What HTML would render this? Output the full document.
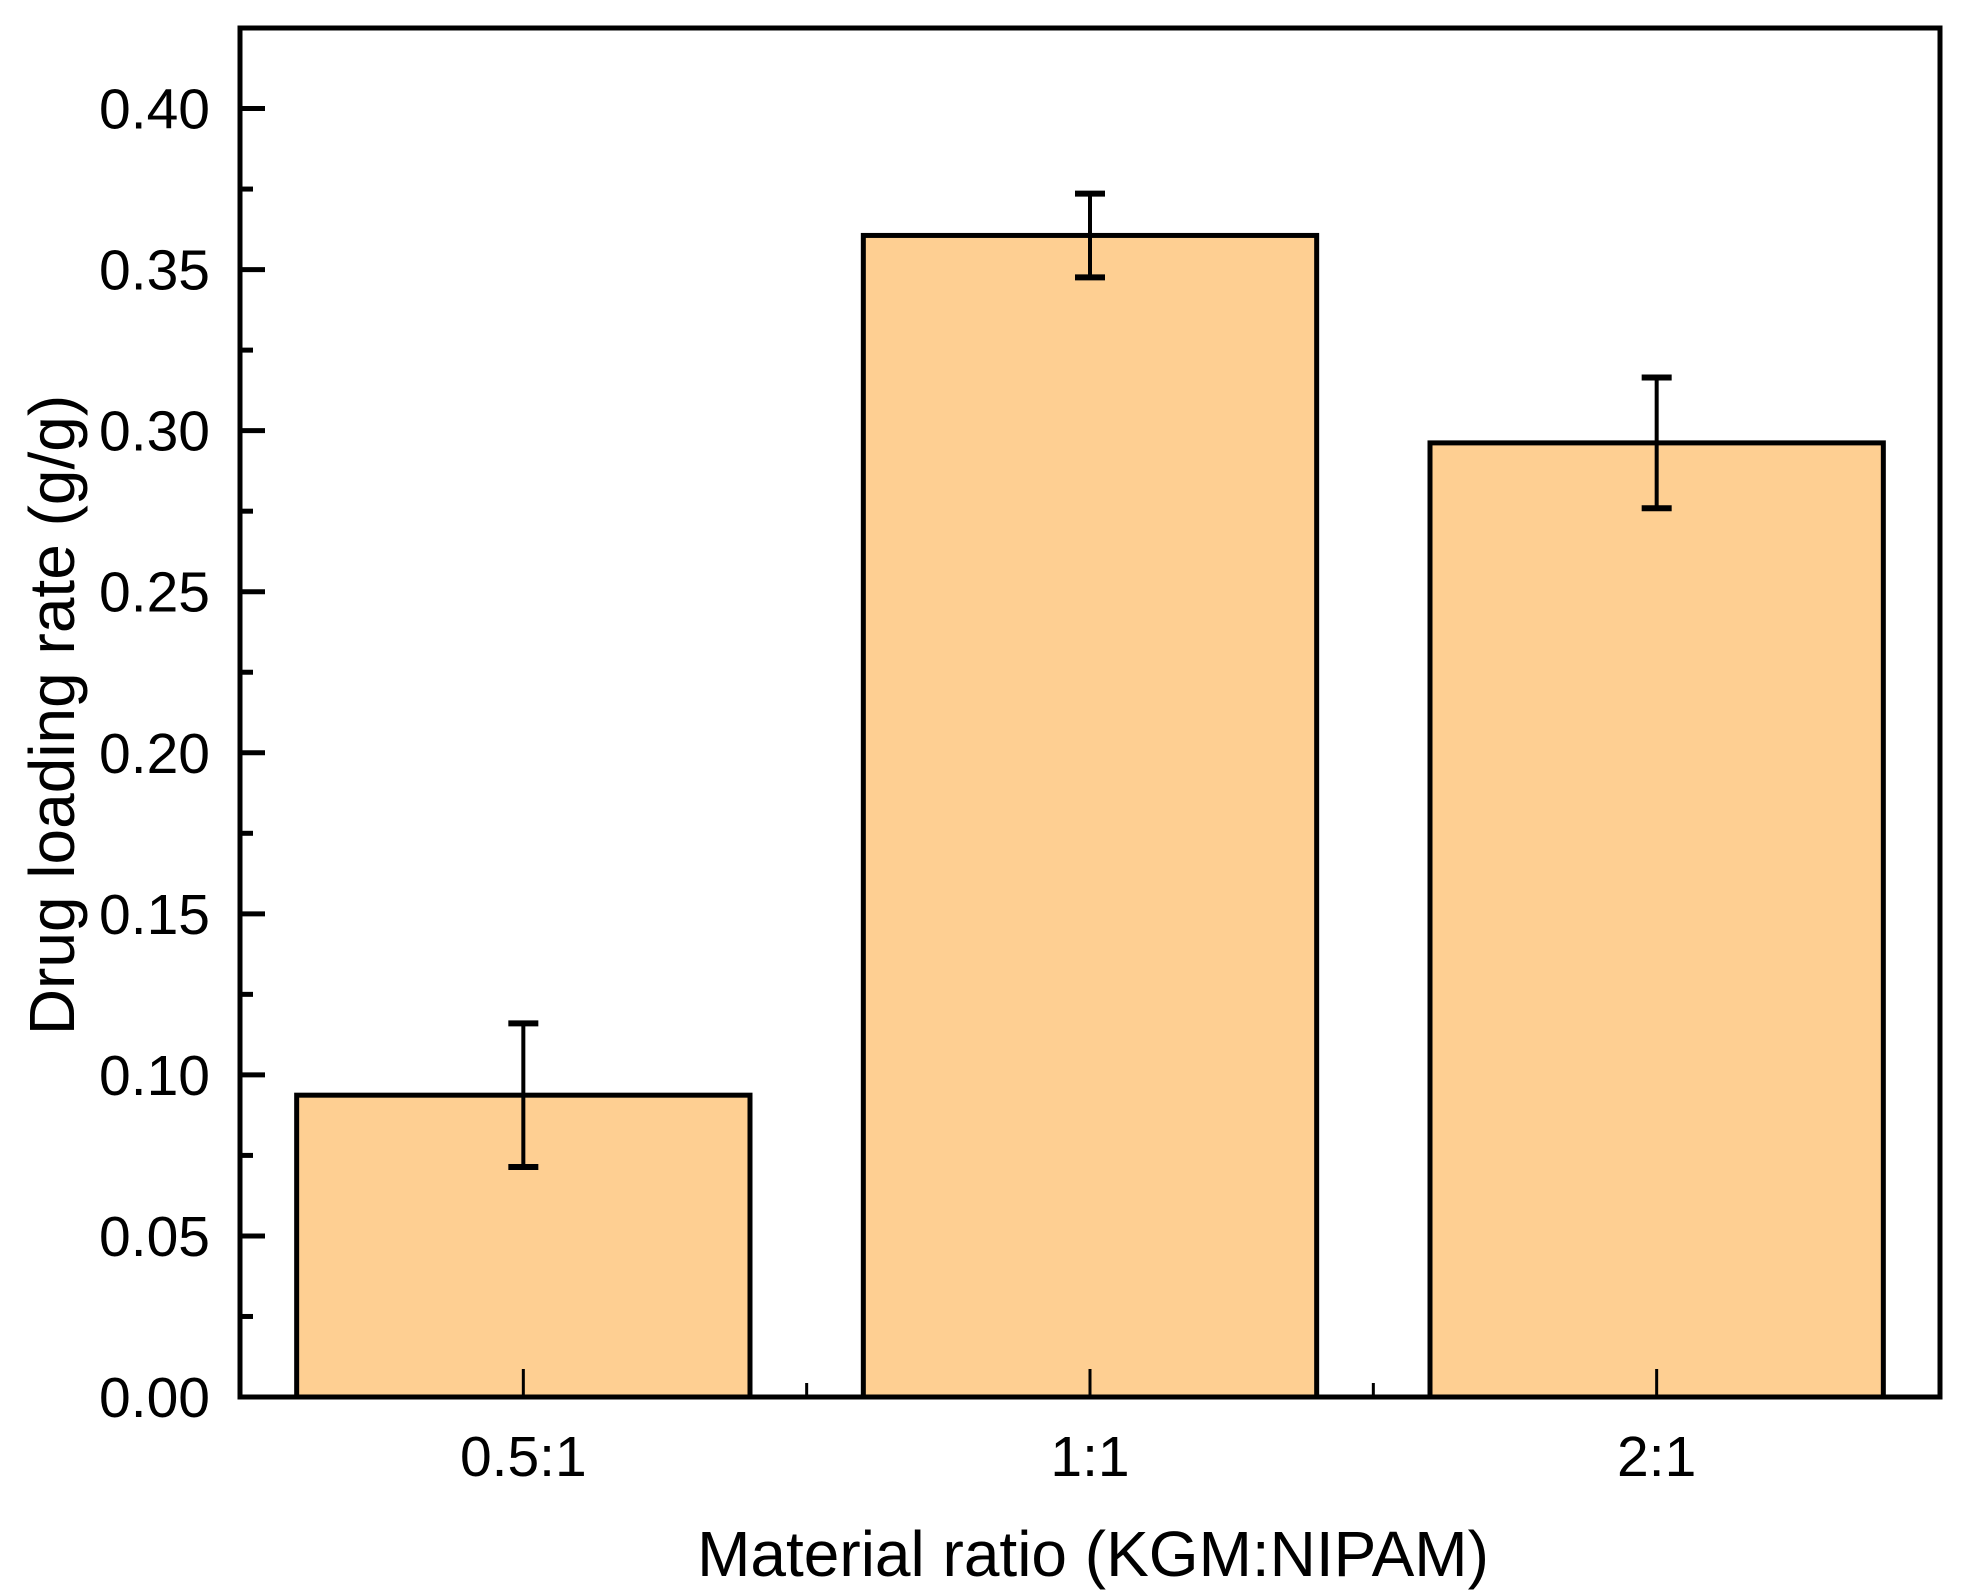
<!DOCTYPE html>
<html><head><meta charset="utf-8">
<style>html,body{margin:0;padding:0;background:#fff;}svg{display:block;font-family:"Liberation Sans",Arial,sans-serif;}</style>
</head><body>
<svg id="chart" width="1970" height="1595" viewBox="0 0 1970 1595">
<g id="plot"></g>
<rect x="240" y="28" width="1700" height="1369" fill="none" stroke="#000" stroke-width="5"/>
<text x="1093" y="1576" font-size="64" text-anchor="middle">Material ratio (KGM:NIPAM)</text>
<text transform="translate(74,715) rotate(-90)" font-size="64" text-anchor="middle">Drug loading rate (g/g)</text>
</svg>
<script>
const categories = ["0.5:1", "1:1", "2:1"];
const values = [0.0937, 0.3606, 0.2962];
const errors = [0.0223, 0.0130, 0.0203];
const yTicks = [0.00, 0.05, 0.10, 0.15, 0.20, 0.25, 0.30, 0.35, 0.40];

const L = 240, R = 1940, T = 28, B = 1397;
const yMin = 0, yMax = 0.425;
const xMin = 0.5, xMax = 3.5;
const NS = "http://www.w3.org/2000/svg";
const xs = v => L + (v - xMin) / (xMax - xMin) * (R - L);
const ys = v => B - (v - yMin) / (yMax - yMin) * (B - T);
const plot = document.getElementById('plot');
function mk(tag, attrs) { const e = document.createElementNS(NS, tag); for (const k in attrs) e.setAttribute(k, attrs[k]); plot.appendChild(e); return e; }

const bw = 0.8;
categories.forEach((c, i) => {
  const cx = i + 1;
  const x0 = xs(cx - bw / 2), x1 = xs(cx + bw / 2);
  const bar = mk('rect', {x: x0, y: ys(values[i]), width: x1 - x0, height: ys(0) - ys(values[i]), fill: '#FECF92', stroke: '#000', 'stroke-width': 5});
  
  
  const px = xs(cx);
  const eg = mk('g', {stroke: '#000', 'stroke-width': 4});
  
  
  const hi = ys(values[i] + errors[i]), lo = ys(values[i] - errors[i]);
  [[px, hi, px, lo, 4], [px - 15, hi, px + 15, hi, 6], [px - 15, lo, px + 15, lo, 6]].forEach(a => {
    const l = document.createElementNS(NS, 'line');
    l.setAttribute('x1', a[0]); l.setAttribute('y1', a[1]); l.setAttribute('x2', a[2]); l.setAttribute('y2', a[3]);
    l.setAttribute('stroke-width', a[4]);
    eg.appendChild(l);
  });
  const t = mk('line', {x1: px, y1: B, x2: px, y2: B - 28, stroke: '#000', 'stroke-width': 3});
  
  
  const lab = mk('text', {x: px, y: 1476, 'font-size': 57, 'text-anchor': 'middle'});
  lab.textContent = c;
  
  
  if (i < categories.length - 1) {
    const m = mk('line', {x1: xs(cx + 0.5), y1: B, x2: xs(cx + 0.5), y2: B - 14, stroke: '#000', 'stroke-width': 3});
    
    
  }
});

yTicks.forEach((v, i) => {
  const y = ys(v);
  const t = mk('line', {x1: L, y1: y, x2: L + 25, y2: y, stroke: '#000', 'stroke-width': 5});
  
  
  const lab = mk('text', {x: 210, y: y + 20, 'font-size': 57, 'text-anchor': 'end'});
  lab.textContent = v.toFixed(2);
  
  
  if (i < yTicks.length - 1) {
    const m = mk('line', {x1: L, y1: ys(v + 0.025), x2: L + 13, y2: ys(v + 0.025), stroke: '#000', 'stroke-width': 5});
    
    
  }
});
</script>
</body></html>
